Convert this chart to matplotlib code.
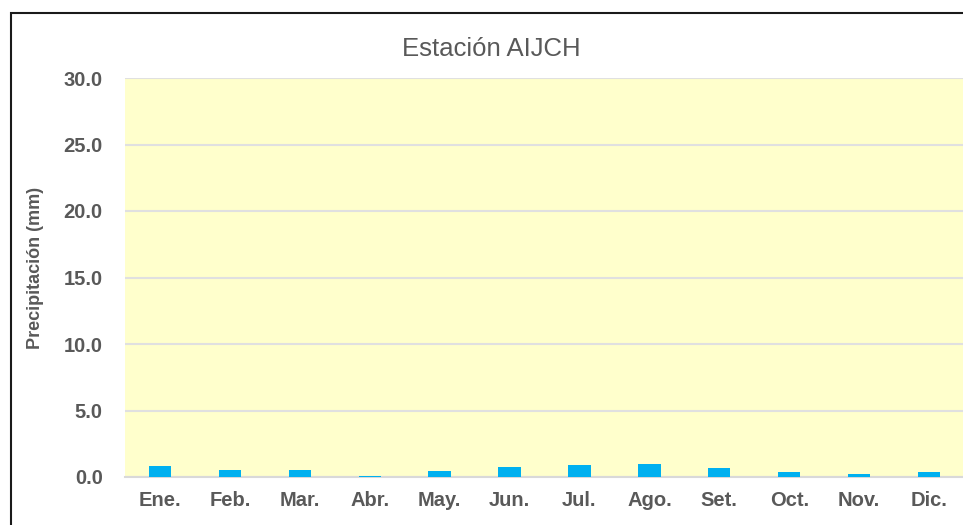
import matplotlib
matplotlib.use("Agg")
import matplotlib.pyplot as plt
from matplotlib.patches import Rectangle

months = ["Ene.", "Feb.", "Mar.", "Abr.", "May.", "Jun.", "Jul.", "Ago.", "Set.", "Oct.", "Nov.", "Dic."]
precip = [0.8, 0.5, 0.5, 0.1, 0.45, 0.75, 0.9, 1.0, 0.7, 0.4, 0.2, 0.4]
yticks = [0.0, 5.0, 10.0, 15.0, 20.0, 25.0, 30.0]

plt.rcParams['font.family'] = ['Liberation Sans', 'DejaVu Sans']
W, H = 963, 525
fig = plt.figure(figsize=(W/100, H/100), dpi=100)
fig.patch.set_facecolor('white')

ax = fig.add_axes([125/W, 1-477/H, (964-125)/W, (477-78)/H])
ax.set_facecolor('#FFFFCC')
x = list(range(len(months)))
ax.bar(x, precip, width=0.32, color='#00B0F0', zorder=3)
ax.set_xlim(-0.5, len(months)-0.5)
ax.set_ylim(0, 30)
ax.set_yticks(yticks)
ax.set_yticklabels([f"{v:.1f}" for v in yticks])
ax.set_xticks(x)
ax.set_xticklabels(months)
ax.grid(axis='y', color='#E0E0E0', linewidth=1.5, zorder=1)
ax.set_axisbelow(True)
for s in ['top', 'right', 'left']:
    ax.spines[s].set_visible(False)
ax.spines['bottom'].set_color('#D9D9D9')
ax.spines['bottom'].set_linewidth(1.5)
ax.tick_params(axis='both', length=0, colors='#595959', labelsize=14.5)
ax.tick_params(axis='y', pad=16)
ax.tick_params(axis='x', pad=10)
for lab in ax.get_xticklabels() + ax.get_yticklabels():
    lab.set_fontweight('bold')

fig.text(35/W, 1-268/H, "Precipitación (mm)", rotation=90, ha='center', va='center',
         fontsize=13, fontweight='bold', color='#595959')

fig.text(491/W, 1-49/H, "Estación AIJCH", ha='center', va='center', fontsize=18.5,
         color='#595959')

fig.patches.append(Rectangle((11/W, -0.1), 1.2, 1-13/H+0.1, transform=fig.transFigure,
                             fill=False, edgecolor='#1a1a1a', linewidth=1.5))

fig.savefig("out.png", dpi=100)
